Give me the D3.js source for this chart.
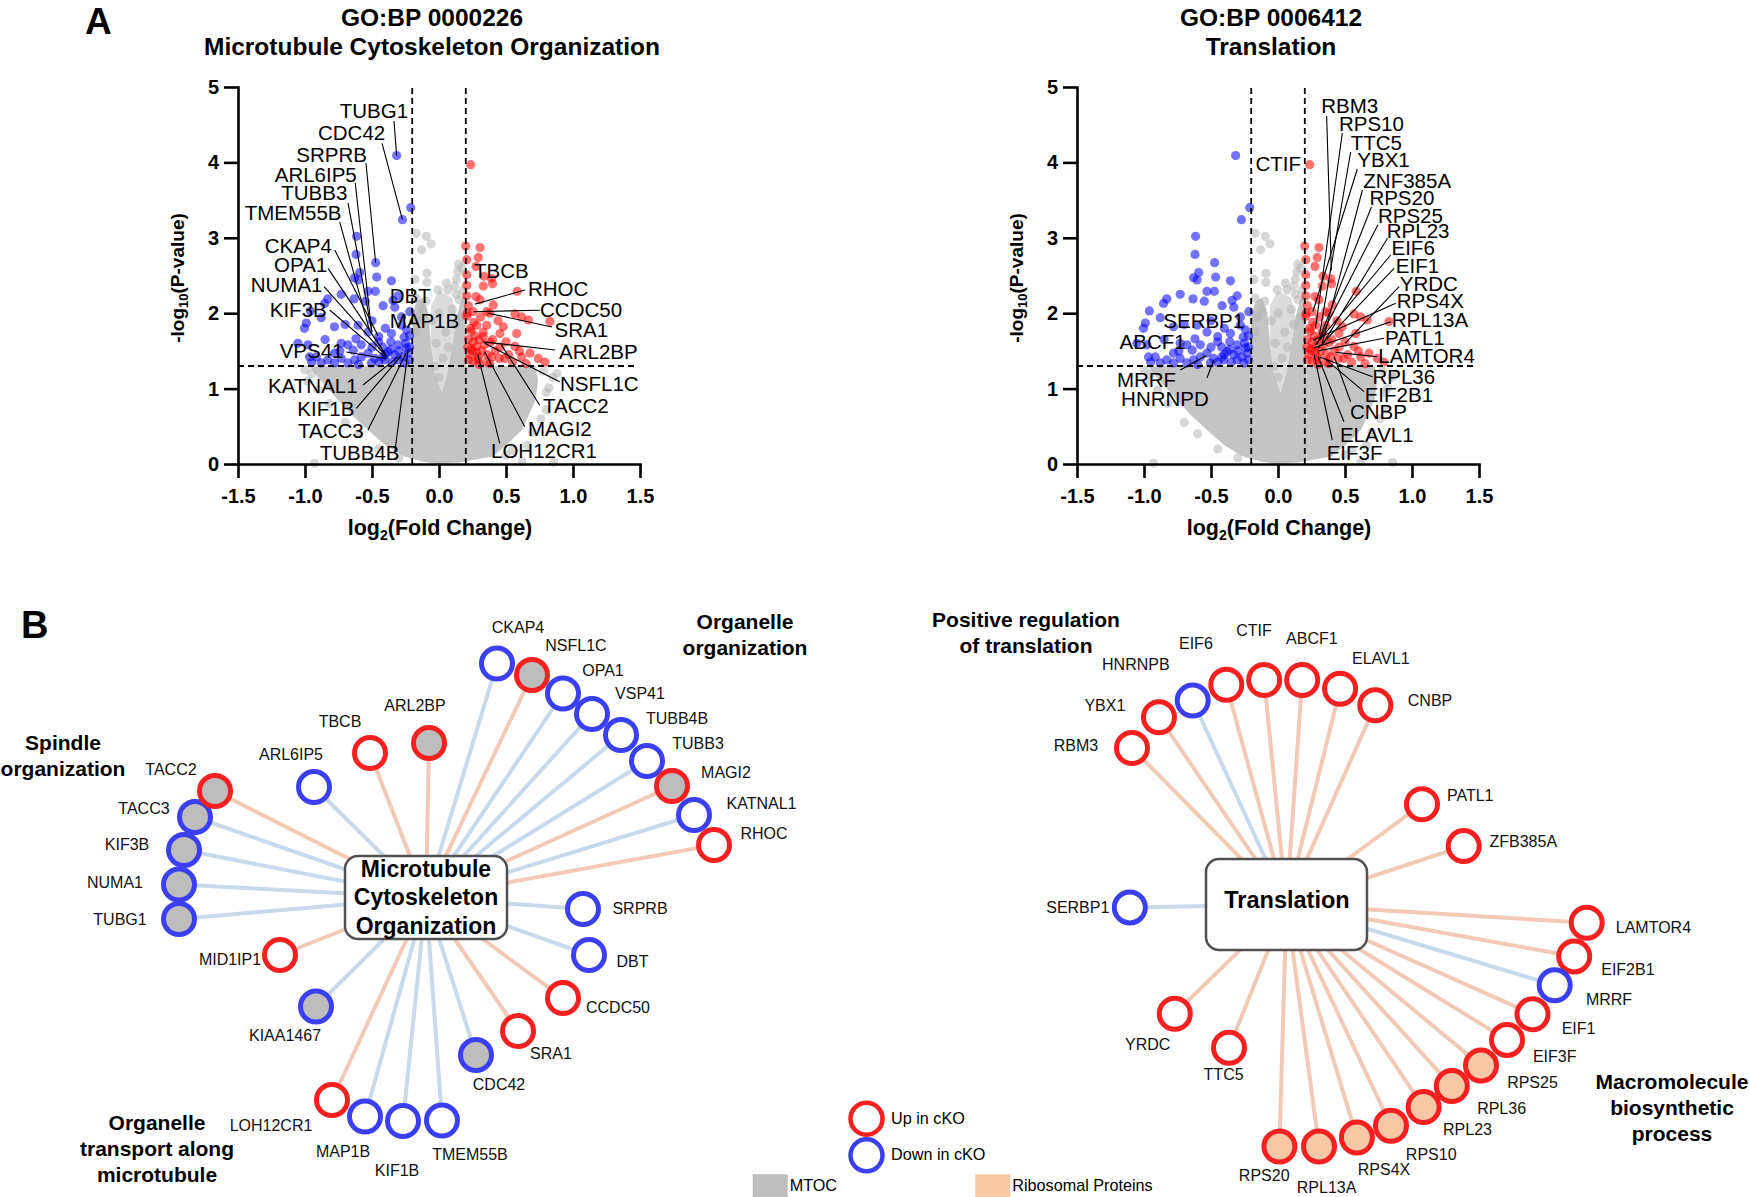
<!DOCTYPE html>
<html>
<head>
<meta charset="utf-8">
<script src="https://cdn.jsdelivr.net/npm/d3@7/dist/d3.min.js"></script>
<style>
  body { margin: 0; background: #fff; }
  svg { display: block; font-family: "Liberation Sans", Arial, sans-serif; }
</style>
</head>
<body>
<svg id="fig" width="1750" height="1197"></svg>
<script>
// ---------- volcano data (log2 FC, -log10 p) ----------
var xTicks = [-1.5, -1.0, -0.5, 0.0, 0.5, 1.0, 1.5];
var yTicks = [0, 1, 2, 3, 4, 5];
var fcCut = 0.2, pCut = 1.3;

var downPts = [[-0.316,4.09],[-0.211,3.40],[-0.273,3.24],[-0.615,3.02],[-0.619,2.78],[-0.473,2.67],[-0.592,2.54],[-0.63,2.47],
  [-0.604,2.44],[-0.465,2.48],[-0.355,2.43],[-0.53,2.29],[-0.475,2.29],[-0.73,2.25],[-0.83,2.19],[-0.634,2.19],[-0.305,2.23],
  [-0.55,2.16],[-0.854,2.13],[-0.417,2.10],[-0.343,2.17],[-0.96,2.03],[-0.33,2.08],[-0.218,2.02],[-0.879,1.94],[-0.99,1.87],
  [-1.004,1.80],[-0.78,1.82],[-0.604,1.84],[-0.28,1.84],[-0.53,1.75],[-0.45,1.69],[-0.355,1.73],[-0.243,1.78],[-1.053,1.60],
  [-0.978,1.58],[-0.58,1.58],[-0.73,1.60],[-0.243,1.54],[-0.305,1.58],[-0.966,1.42],[-0.916,1.42],[-0.78,1.47],[-0.64,1.51],
  [-0.53,1.47],[-0.38,1.49],[-0.23,1.47],[-0.83,1.38],[-0.73,1.40],[-0.63,1.38],[-0.48,1.40],[-0.405,1.38],[-0.305,1.38],
  [-0.879,1.34],[-0.78,1.34],[-0.68,1.34],[-0.505,1.34],[-0.255,1.34],[-0.45,1.62],[-0.42,1.55],[-0.40,1.45],[-0.36,1.52],
  [-0.33,1.45],[-0.30,1.50],[-0.27,1.42],[-0.25,1.60],[-0.22,1.55],[-0.22,1.38],[-0.35,1.35],[-0.45,1.35],[-0.58,1.42],
  [-0.50,1.55],[-0.62,1.66],[-0.68,1.58],[-0.85,1.65],[-0.70,1.85],[-0.40,1.80],[-0.50,1.90],[-0.26,1.68],[-0.36,1.62],
  [-0.42,1.42],[-0.60,1.32],[-0.95,1.35],[-0.74,1.50],[-0.22,1.70],[-0.28,1.95]];

var upPts = [[0.237,3.97],[0.199,2.89],[0.306,2.87],[0.293,2.74],[0.207,2.71],[0.276,2.62],[0.207,2.51],[0.336,2.49],
  [0.393,2.46],[0.207,2.37],[0.331,2.36],[0.40,2.39],[0.584,2.29],[0.207,2.23],[0.276,2.22],[0.306,2.18],[0.219,2.10],
  [0.405,2.11],[0.356,2.02],[0.254,2.02],[0.567,1.99],[0.617,1.95],[0.667,1.91],[0.207,1.96],[0.828,1.89],[0.281,1.84],
  [0.356,1.84],[0.48,1.82],[0.58,1.73],[0.455,1.73],[0.241,1.76],[0.331,1.69],[0.256,1.62],[0.381,1.61],[0.567,1.56],
  [0.281,1.56],[0.241,1.53],[0.455,1.55],[0.679,1.47],[0.617,1.42],[0.741,1.40],[0.791,1.35],[0.294,1.42],[0.393,1.42],
  [0.49,1.40],[0.256,1.36],[0.356,1.35],[0.22,1.65],[0.23,1.45],[0.25,1.50],[0.27,1.70],[0.30,1.65],[0.32,1.50],[0.34,1.58],
  [0.36,1.45],[0.29,1.38],[0.22,1.38],[0.26,1.88],[0.31,1.95],[0.42,1.50],[0.45,1.40],[0.52,1.45],[0.40,1.65],[0.30,1.32],
  [0.38,1.33],[0.50,1.62],[0.55,1.35],[0.65,1.33],[0.60,1.50],[0.44,1.90],[0.38,2.00],[0.215,1.55],[0.235,1.80],[0.33,1.75],
  [0.28,1.48],[0.21,2.00]];

var grayPts = [[-0.17,3.06],[-0.095,3.02],[-0.06,2.92],[-0.13,2.84],[-0.09,2.53],[-0.09,2.41],[0.055,2.40],[0.13,2.45],
  [0.146,2.65],[-0.007,2.31],[0.067,2.31],[-0.17,2.2],[-0.1,2.16],[0.116,2.36],[0.17,2.6],[-0.15,1.95],[0.1,2.05],[0.15,2.18],
  [-0.12,2.05],[-0.05,1.9],[0.12,1.85],[-0.17,1.75],[0.17,1.95],[0.18,2.3],[-0.18,2.45],[0.13,2.25],[0.14,2.55],
  [-0.93,0.01],[0.62,0.03],[0.855,0.02],[0.78,1.23],[0.82,1.01],[0.80,0.72],[0.70,0.42],[0.85,1.15],[0.88,1.2],[0.76,0.6],
  [0.55,0.18],[0.66,0.25],[0.8,0.95],[0.5,0.12],[-1.0,1.25],[-0.95,1.2],[-0.98,1.1],[-0.9,0.98],[-0.82,0.8],[-0.7,0.55],
  [-0.6,0.4],[-0.45,0.2],[-0.3,0.08],[0.0,1.15],[0.03,1.4],[-0.02,1.6],[0.05,1.75],[0.0,2.0],[0.07,1.55],[-0.03,1.3]];

// outline of the dense non-significant cloud
var grayCloud = [[0,0],[-0.12,0.03],[-0.26,0.1],[-0.4,0.25],[-0.53,0.45],[-0.65,0.65],[-0.78,0.9],[-0.88,1.1],
  [-0.97,1.3],[-0.2,1.3],[-0.2,1.95],[-0.17,2.15],[-0.12,2.2],[-0.08,2.0],[-0.06,1.6],[-0.03,1.2],[0.02,0.95],[0.06,1.2],
  [0.1,1.6],[0.13,1.95],[0.17,2.2],[0.2,2.25],[0.2,1.3],[0.72,1.3],[0.74,1.1],[0.72,0.85],[0.62,0.45],[0.5,0.25],
  [0.4,0.1],[0.15,0.02],[0,0]];
var grayNotch = [[-0.06,1.6],[-0.03,1.2],[0.02,0.95],[0.06,1.2],[0.1,1.6],[0.13,1.95],[0.1,2.2],[0,2.3],[-0.06,2.1]];

// labelled genes: name, point it refers to
var mtVolNames = ["TUBG1","CDC42","SRPRB","ARL6IP5","TUBB3","TMEM55B","CKAP4","OPA1","NUMA1","KIF3B","VPS41","DBT",
  "MAP1B","KATNAL1","KIF1B","TACC3","TUBB4B","TBCB","RHOC","CCDC50","SRA1","ARL2BP","NSFL1C","TACC2","MAGI2","LOH12CR1"];
var mtVolPoint = [[-0.316,4.09],[-0.273,3.24],[-0.473,2.67],[-0.505,1.80],[-0.50,1.75],[-0.52,1.78],[-0.455,1.70],
  [-0.405,1.47],[-0.39,1.42],[-0.405,1.42],[-0.40,1.40],null,null,[-0.306,1.42],[-0.28,1.44],[-0.243,1.48],[-0.231,1.50],
  null,[0.269,2.12],[0.256,2.02],[0.368,2.0],[0.33,1.62],[0.34,1.60],[0.465,1.58],[0.34,1.49],[0.29,1.45]];
var trVolNames = ["RBM3","RPS10","TTC5","YBX1","ZNF385A","RPS20","RPS25","RPL23","EIF6","EIF1","YRDC","RPS4X","RPL13A",
  "PATL1","LAMTOR4","RPL36","EIF2B1","CNBP","ELAVL1","EIF3F","CTIF","SERBP1","ABCF1","MRRF","HNRNPD"];
var trVolPoint = [[0.398,2.57],[0.28,1.80],[0.31,1.72],[0.26,2.02],[0.33,1.60],[0.29,1.58],[0.30,1.62],[0.33,1.58],
  [0.28,1.58],[0.30,1.54],[0.50,1.60],[0.26,1.64],[0.27,1.54],[0.30,1.50],[0.43,1.48],[0.31,1.42],[0.36,1.38],[0.42,1.42],
  [0.30,1.42],[0.27,1.45],null,null,null,[-0.535,1.44],[-0.48,1.38]];

// label placement (text start / baseline, leader start), in axis units
var mtVolText = [[-0.741,4.593],[-0.903,4.297],[-1.065,4.009],[-1.226,3.744],[-1.177,3.501],[-1.45,3.236],[-1.301,2.802],
  [-1.231,2.55],[-1.405,2.285],[-1.263,1.954],[-1.189,1.402],[-0.368,2.131],[-0.368,1.808],[-1.276,0.938],[-1.057,0.637],
  [-1.052,0.341],[-0.89,0.053],[0.261,2.468],[0.664,2.223],[0.754,1.95],[0.862,1.687],[0.896,1.393],[0.903,0.968],
  [0.776,0.676],[0.664,0.375],[0.388,0.08]];
var mtVolFrom = [[-0.336,4.549],[-0.425,4.253],[-0.545,3.992],[-0.625,3.727],[-0.679,3.462],[-0.741,3.21],[-0.778,2.838],
  [-0.828,2.595],[-0.858,2.351],[-0.816,2.042],[-0.692,1.485],null,null,[-0.567,1.048],[-0.617,0.739],[-0.53,0.451],
  [-0.331,0.142],null,[0.642,2.308],[0.754,2.04],[0.843,1.817],[0.866,1.512],[0.90,1.09],[0.751,0.782],[0.64,0.495],
  [0.453,0.275]];
var trVolText = [[0.323,4.651],[0.455,4.42],[0.542,4.164],[0.592,3.935],[0.637,3.656],[0.682,3.435],[0.746,3.2],
  [0.812,2.993],[0.847,2.772],[0.879,2.529],[0.909,2.294],[0.886,2.065],[0.849,1.813],[0.799,1.578],[0.749,1.343],
  [0.705,1.057],[0.647,0.826],[0.537,0.593],[0.462,0.296],[0.363,0.053],[-0.168,3.881],[-0.856,1.805],[-1.182,1.521],
  [-1.202,1.015],[-1.171,0.764]];
var trVolFrom = [[0.363,4.615],[0.48,4.39],[0.542,4.138],[0.592,3.912],[0.63,3.634],[0.697,3.408],[0.746,3.174],
  [0.817,2.993],[0.841,2.772],[0.866,2.595],[0.904,2.351],[0.879,2.131],[0.841,1.887],[0.791,1.667],[0.742,1.423],
  [0.705,1.158],[0.642,0.959],[0.542,0.826],[0.492,0.561],[0.405,0.318],null,null,null,[-0.729,1.247],[-0.53,1.14]];

// ---------- network data ----------
var mtGenes = ["CKAP4","NSFL1C","OPA1","VSP41","TUBB4B","TUBB3","MAGI2","KATNAL1","RHOC","SRPRB","DBT","CCDC50","SRA1",
  "CDC42","TMEM55B","KIF1B","MAP1B","LOH12CR1","KIAA1467","MID1IP1","TUBG1","NUMA1","KIF3B","TACC3","TACC2","ARL6IP5",
  "TBCB","ARL2BP"];
var mtDir = ["down","up","down","down","down","down","up","down","up","down","down","up","up","down","down","down","down",
  "up","down","up","down","down","down","down","up","down","up","up"];
var mtTag = ["","mtoc","","","","","mtoc","","","","","","","mtoc","","","","","mtoc","","mtoc","mtoc","mtoc","mtoc","mtoc",
  "","","mtoc"];
var trGenes = ["RBM3","YBX1","HNRNPB","EIF6","CTIF","ABCF1","ELAVL1","CNBP","PATL1","ZFB385A","SERBP1","LAMTOR4","EIF2B1",
  "MRRF","EIF1","EIF3F","RPS25","RPL36","RPL23","RPS10","RPS4X","RPL13A","RPS20","TTC5","YRDC"];
var trDir = ["up","up","down","up","up","up","up","up","up","up","down","up","up","down","up","up","up","up","up","up","up",
  "up","up","up","up"];
var trTag = ["","","","","","","","","","","","","","","","","ribo","ribo","ribo","ribo","ribo","ribo","ribo","",""];

// network layout: node offset from hub, label offset from node
var mtPos = [[71,-234],[106,-222.5],[137,-204],[166,-183.5],[195,-162.5],[221,-136.5],[246,-111.5],[268,-82.5],[288,-52.5],
  [157,11.5],[163,57.5],[137,100.5],[92,133.5],[50,157.5],[16,223],[-23,223.5],[-61,219],[-94,202.5],[-110,109],[-146,57.5],
  [-247,21.5],[-247,-13],[-242,-47.5],[-231,-80.5],[-211,-106.5],[-112,-110.5],[-56,-144.5],[3,-154.5]];
var mtLab = [[21,-36.4],[44,-30],[40,-23.5],[48,-21],[56,-17],[51,-18],[54,-14],[67.5,-12],[50,-11.5],[57,-1],[43.5,6],
  [55,9],[33,22],[23,29],[28,34],[-6,49],[-22,34.4],[-61,25],[-31,29],[-50,4.6],[-59,0],[-64,-2.5],[-57,-6],[-51,-8.5],
  [-44,-22],[-23,-33],[-30,-31.4],[-14,-38]];
var trPos = [[-154.5,-156.5],[-127.5,-187.3],[-93.8,-203.9],[-60.2,-219.7],[-22.3,-224.5],[15.7,-224.5],[53.6,-215.8],
  [88.8,-199.2],[135.5,-100.3],[177.2,-58.4],[-156.7,2.9],[300.2,18.3],[287.7,51.9],[268.2,80.8],[246,109.7],[220.5,135.4],
  [194.5,161.1],[165.3,181.6],[137.1,202.6],[104.5,221.2],[70.4,233],[32.5,242.1],[-7.1,242.1],[-57.5,143.3],[-111.7,109.3]];
var trLab = [[-56,-2.7],[-54.1,-12.2],[-56.9,-36.4],[-30.4,-41.5],[-10.3,-49.8],[9.7,-41.9],[40.7,-30.8],[54.7,-5.5],
  [48.2,-8.7],[59.6,-5.1],[-52,0],[66.7,4],[53.7,13.1],[54.3,13.8],[46.1,13.8],[47.7,16.6],[51.5,16.6],[49.8,21.8],
  [43.9,22.5],[40.2,28.8],[27.1,31.7],[7.6,40.4],[-15.2,28.4],[-5.4,26.5],[-27.1,30.8]];

var legendRing = [["Up in cKO","up"],["Down in cKO","down"]];
var legendFill = [["MTOC","mtoc"],["Ribosomal Proteins","ribo"]];

// ---------- styles ----------
var FONT = '"Liberation Sans", Arial, sans-serif';
var ring = {up: "#f5201f", down: "#3b3ff2"};
var edge = {up: "#f2c9b6", down: "#c9d9ec"};
var fillOf = {mtoc: "#bdbdbd", ribo: "#f6c8a6", "": "#ffffff"};

var svg = d3.select("#fig");

// ---------- panel A ----------
function volcano(x0, titles, names, pts, textPos, fromPos) {
  var x = d3.scaleLinear().domain([-1.5, 1.5]).range([x0, x0 + 402]);
  var y = d3.scaleLinear().domain([0, 5]).range([464, 87]);
  var g = svg.append("g");
  var line = d3.line().x(function (d) { return x(d[0]); }).y(function (d) { return y(d[1]); });

  g.append("path").attr("d", line(grayCloud) + "Z").attr("fill", "#c4c4c4");
  g.append("path").attr("d", line(grayNotch) + "Z").attr("fill", "#dcdcdc");
  g.selectAll(".gp").data(grayPts).enter().append("circle")
    .attr("cx", function (d) { return x(d[0]); }).attr("cy", function (d) { return y(d[1]); })
    .attr("r", 4.6).attr("fill", "#b4b4b4").attr("fill-opacity", 0.55);
  g.selectAll(".bp").data(downPts).enter().append("circle")
    .attr("cx", function (d) { return x(d[0]); }).attr("cy", function (d) { return y(d[1]); })
    .attr("r", 4.6).attr("fill", "#0000ff").attr("fill-opacity", 0.55);
  g.selectAll(".rp").data(upPts).enter().append("circle")
    .attr("cx", function (d) { return x(d[0]); }).attr("cy", function (d) { return y(d[1]); })
    .attr("r", 4.6).attr("fill", "#ff0000").attr("fill-opacity", 0.55);

  [-fcCut, fcCut].forEach(function (v) {
    g.append("line").attr("x1", x(v)).attr("x2", x(v)).attr("y1", y(0)).attr("y2", y(5))
      .attr("stroke", "#000").attr("stroke-width", 1.8).attr("stroke-dasharray", "6,4");
  });
  g.append("line").attr("x1", x(-1.5)).attr("x2", x(1.48)).attr("y1", y(pCut)).attr("y2", y(pCut))
    .attr("stroke", "#000").attr("stroke-width", 1.8).attr("stroke-dasharray", "6,4");

  var gx = g.append("g").attr("transform", "translate(0," + y(0) + ")")
    .call(d3.axisBottom(x).tickValues(xTicks).tickFormat(function (d) { return d.toFixed(1); })
      .tickSize(14).tickSizeOuter(0).tickPadding(11));
  var gy = g.append("g").attr("transform", "translate(" + x(-1.5) + ",0)")
    .call(d3.axisLeft(y).tickValues(yTicks).tickFormat(function (d) { return d; })
      .tickSize(14).tickSizeOuter(0).tickPadding(5));
  [gx, gy].forEach(function (a) {
    a.attr("font-family", FONT);
    a.select(".domain").attr("stroke-width", 2.6).attr("stroke-linecap", "square");
    a.selectAll(".tick line").attr("stroke-width", 2.6);
    a.selectAll(".tick text").attr("font-size", 20).attr("font-weight", "bold").attr("fill", "#000");
  });

  // leader lines + labels
  names.forEach(function (n, i) {
    if (fromPos[i] && pts[i]) {
      g.append("line").attr("x1", x(fromPos[i][0])).attr("y1", y(fromPos[i][1]))
        .attr("x2", x(pts[i][0])).attr("y2", y(pts[i][1])).attr("stroke", "#000").attr("stroke-width", 1.1);
    }
    g.append("text").attr("x", x(textPos[i][0])).attr("y", y(textPos[i][1]))
      .attr("font-size", 20.5).attr("fill", "#000").text(n);
  });

  var cx = x(0);
  g.append("text").attr("x", cx - 7).attr("y", 25.5).attr("text-anchor", "middle")
    .attr("font-size", 24.5).attr("font-weight", "bold").text(titles[0]);
  g.append("text").attr("x", cx - 7).attr("y", 55).attr("text-anchor", "middle")
    .attr("font-size", 24.5).attr("font-weight", "bold").text(titles[1]);

  var xt = g.append("text").attr("x", cx + 1).attr("y", 535).attr("text-anchor", "middle")
    .attr("font-size", 21.5).attr("font-weight", "bold");
  xt.append("tspan").text("log");
  xt.append("tspan").attr("font-size", 14).attr("dy", 5).text("2");
  xt.append("tspan").attr("dy", -5).text("(Fold Change)");

  var yt = g.append("text").attr("transform", "translate(" + (x0 - 54) + ",278) rotate(-90)")
    .attr("text-anchor", "middle").attr("font-size", 19).attr("font-weight", "bold");
  yt.append("tspan").text("-log");
  yt.append("tspan").attr("font-size", 13).attr("dy", 4).text("10");
  yt.append("tspan").attr("dy", -4).text("(P-value)");
}

volcano(238, ["GO:BP 0000226", "Microtubule Cytoskeleton Organization"], mtVolNames, mtVolPoint, mtVolText, mtVolFrom);
volcano(1077, ["GO:BP 0006412", "Translation"], trVolNames, trVolPoint, trVolText, trVolFrom);

svg.append("text").attr("x", 85).attr("y", 34).attr("font-size", 37).attr("font-weight", "bold").text("A");
svg.append("text").attr("x", 21).attr("y", 637.5).attr("font-size", 38).attr("font-weight", "bold").text("B");

// ---------- panel B ----------
function network(hub, box, lines, genes, dir, tag, pos, lab, fs) {
  var g = svg.append("g");
  genes.forEach(function (n, i) {
    g.append("line").attr("x1", hub[0]).attr("y1", hub[1])
      .attr("x2", hub[0] + pos[i][0]).attr("y2", hub[1] + pos[i][1])
      .attr("stroke", edge[dir[i]]).attr("stroke-width", 4);
  });
  g.append("rect").attr("x", box[0]).attr("y", box[1]).attr("width", box[2]).attr("height", box[3])
    .attr("rx", 13).attr("fill", "#fff").attr("stroke", "#505050").attr("stroke-width", 2.5);
  lines.forEach(function (t) {
    g.append("text").attr("x", t[1]).attr("y", t[2]).attr("text-anchor", "middle")
      .attr("font-size", fs).attr("font-weight", "bold").text(t[0]);
  });
  genes.forEach(function (n, i) {
    var nx = hub[0] + pos[i][0], ny = hub[1] + pos[i][1];
    g.append("circle").attr("cx", nx).attr("cy", ny).attr("r", 15.5)
      .attr("fill", fillOf[tag[i]]).attr("stroke", ring[dir[i]]).attr("stroke-width", 5);
    g.append("text").attr("x", nx + lab[i][0]).attr("y", ny + lab[i][1]).attr("dy", "0.36em")
      .attr("text-anchor", "middle").attr("font-size", 16).attr("fill", "#111").text(n);
  });
}

network([426, 897.5], [345, 856, 162, 83],
  [["Microtubule", 426, 877], ["Cytoskeleton", 426, 905], ["Organization", 426, 934]],
  mtGenes, mtDir, mtTag, mtPos, mtLab, 23);
network([1286.5, 904.5], [1206, 859, 161, 91], [["Translation", 1287, 908]],
  trGenes, trDir, trTag, trPos, trLab, 23.5);

var groups = [
  [["Spindle", "organization"], 63, 749.5],
  [["Organelle", "organization"], 745, 629],
  [["Organelle", "transport along", "microtubule"], 157, 1129.5],
  [["Positive regulation", "of translation"], 1026, 627],
  [["Macromolecule", "biosynthetic", "process"], 1672, 1088.5]
];
groups.forEach(function (gr) {
  gr[0].forEach(function (t, k) {
    svg.append("text").attr("x", gr[1]).attr("y", gr[2] + k * 26).attr("text-anchor", "middle")
      .attr("font-size", 21).attr("font-weight", "bold").text(t);
  });
});

// legend
legendRing.forEach(function (d, i) {
  svg.append("circle").attr("cx", 866.5).attr("cy", 1118.7 + i * 36.6).attr("r", 16)
    .attr("fill", "#fff").attr("stroke", ring[d[1]]).attr("stroke-width", 4.5);
  svg.append("text").attr("x", 891).attr("y", 1123.5 + i * 36).attr("font-size", 16.2).text(d[0]);
});
legendFill.forEach(function (d, i) {
  var lx = i === 0 ? 752.7 : 975.3;
  svg.append("rect").attr("x", lx).attr("y", 1174.3).attr("width", 35).attr("height", 23).attr("fill", fillOf[d[1]]);
  svg.append("text").attr("x", lx + 37).attr("y", 1191).attr("font-size", 16.2).text(d[0]);
});
</script>
</body>
</html>
